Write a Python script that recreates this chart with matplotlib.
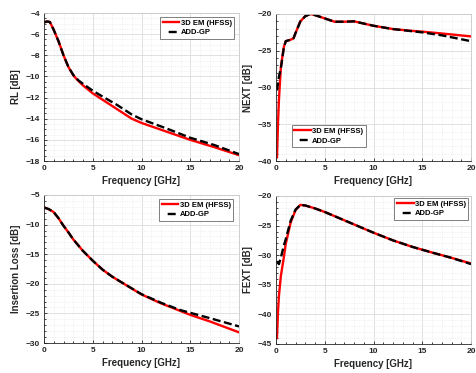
import matplotlib
matplotlib.use("Agg")
import matplotlib.pyplot as plt
from matplotlib.ticker import MultipleLocator
from matplotlib.lines import Line2D

plt.rcParams['font.family'] = ['Liberation Sans', 'DejaVu Sans']
plt.rcParams['font.weight'] = 'bold'

# ---- data ----
rl_f = [0, 0.3, 0.6, 1.0, 1.5, 2.0, 2.5, 3.0, 3.5, 4.0, 5.0, 6.0, 7.5, 9.0, 10.0, 12.5, 15.0, 17.5, 20.0]
rl_hfss = [-4.9, -4.8, -4.85, -5.6, -6.7, -8.0, -9.1, -9.9, -10.4, -10.85, -11.6, -12.2, -13.1, -14.0, -14.4, -15.2, -16.0, -16.7, -17.45]
rl_gp = [-4.9, -4.8, -4.85, -5.6, -6.7, -8.0, -9.1, -9.85, -10.35, -10.7, -11.35, -11.9, -12.7, -13.6, -14.05, -14.9, -15.8, -16.5, -17.35]

nx_f = [0.1, 0.2, 0.3, 0.5, 0.8, 1.0, 1.5, 1.8, 2.0, 2.5, 3.0, 3.5, 4.0, 5.0, 6.0, 7.0, 8.0, 9.0, 10.0, 12.0, 14.0, 15.0, 17.0, 20.0]
nx_hfss = [-39.5, -35.0, -31.7, -27.2, -24.5, -23.7, -23.5, -23.3, -22.6, -21.0, -20.3, -20.0, -20.15, -20.6, -21.05, -21.05, -21.0, -21.3, -21.6, -22.05, -22.3, -22.4, -22.65, -23.05]
nx_gp = [-30.4, -29.4, -28.5, -27.4, -24.6, -23.7, -23.5, -23.3, -22.6, -21.0, -20.3, -20.0, -20.15, -20.6, -21.05, -21.05, -21.0, -21.3, -21.6, -22.05, -22.35, -22.5, -22.9, -23.7]

il_f = [0, 0.5, 1.0, 1.5, 2.0, 2.5, 3.0, 4.0, 5.0, 6.0, 7.0, 8.0, 10.0, 12.0, 14.0, 15.0, 17.0, 20.0]
il_hfss = [-7.1, -7.4, -7.9, -8.95, -10.2, -11.3, -12.5, -14.45, -16.1, -17.6, -18.8, -19.8, -21.8, -23.3, -24.6, -25.25, -26.35, -28.2]
il_gp = [-7.1, -7.4, -7.9, -8.95, -10.2, -11.3, -12.5, -14.45, -16.1, -17.6, -18.8, -19.8, -21.75, -23.2, -24.45, -24.9, -25.8, -27.2]

fx_f = [0.1, 0.2, 0.3, 0.5, 0.8, 1.0, 1.5, 2.0, 2.5, 3.0, 4.0, 5.0, 6.0, 8.0, 10.0, 12.0, 14.0, 16.0, 18.0, 20.0]
fx_hfss = [-44.0, -39.7, -36.9, -33.5, -30.4, -28.1, -24.5, -22.4, -21.5, -21.6, -22.1, -22.7, -23.4, -24.8, -26.2, -27.5, -28.6, -29.55, -30.45, -31.4]
fx_gp = [-31.0, -31.3, -31.5, -30.4, -28.4, -27.3, -24.2, -22.3, -21.5, -21.6, -22.1, -22.7, -23.4, -24.8, -26.2, -27.5, -28.6, -29.55, -30.45, -31.5]

labels = ['3D EM (HFSS)', 'ADD-GP']

W, H = 476, 373
fig = plt.figure(figsize=(W / 100, H / 100), dpi=100)

def rect(x0, y0, x1, y1):
    return [x0 / W, 1 - y1 / H, (x1 - x0) / W, (y1 - y0) / H]

LW = 1.7
DASH = (0, (3.4, 1.5))

panels = [
    (rect(44, 13, 239, 161), rl_f, rl_hfss, rl_gp, (-18, -4), 2, 'RL [dB]', ('upper right', (0.974, 0.973))),
    (rect(276, 14, 471, 161), nx_f, nx_hfss, nx_gp, (-40, -20), 5, 'NEXT [dB]', ('lower left', (0.082, 0.095))),
    (rect(44, 195, 239, 343), il_f, il_hfss, il_gp, (-30, -5), 5, 'Insertion Loss [dB]', ('upper right', (0.969, 0.973))),
    (rect(276, 196, 471, 344), fx_f, fx_hfss, fx_gp, (-45, -20), 5, 'FEXT [dB]', ('upper right', (0.985, 0.986))),
]

for r, f, yh, yg, ylim, ystep, ylab, (loc, anchor) in panels:
    ax = fig.add_axes(r)
    ax.plot(f, yh, color='#ff0000', lw=LW)
    ax.plot(f, yg, color='black', lw=LW, ls=DASH)
    ax.set_xlim(0, 20)
    ax.set_ylim(*ylim)
    ax.xaxis.set_major_locator(MultipleLocator(5))
    ax.xaxis.set_minor_locator(MultipleLocator(1))
    ax.yaxis.set_major_locator(MultipleLocator(ystep))
    ax.yaxis.set_minor_locator(MultipleLocator(1 if ystep == 5 else 0.5))
    ax.grid(which='major', color='#dcdcdc', lw=0.6)
    ax.grid(which='minor', color='#e4e4e4', lw=0.5, ls=':')
    ax.set_axisbelow(True)
    ax.tick_params(which='both', direction='in', labelsize=6, length=2.5, width=0.6,
                   top=False, right=False, pad=3, colors='#262626')
    ax.tick_params(which='minor', length=1.2)
    for name, s in ax.spines.items():
        s.set_linewidth(0.6)
        s.set_color('#262626' if name in ('left', 'bottom') else '#c8c8c8')
    for lab in ax.get_xticklabels() + ax.get_yticklabels():
        lab.set_fontweight('bold')
    ax.set_xlabel('Frequency [GHz]', fontsize=7, fontweight='bold', labelpad=3, color='#262626')
    ax.set_ylabel(ylab, fontsize=7, fontweight='bold', labelpad=3, color='#262626')
    handles = [Line2D([], [], color='#ff0000', lw=LW),
               Line2D([], [], color='black', lw=LW, ls=(3.4, (3.4, 2.4)))]
    leg = ax.legend(handles, labels, loc=loc, bbox_to_anchor=anchor, borderaxespad=0,
                    fontsize=5.5, handlelength=2.2, fancybox=False, framealpha=1,
                    borderpad=0.3, labelspacing=0.3, handletextpad=0.15)
    leg.get_frame().set_edgecolor('#6a6a6a')
    leg.get_frame().set_linewidth(0.6)
    for t in leg.get_texts():
        t.set_fontweight('bold')

fig.savefig('out.png', dpi=100)
